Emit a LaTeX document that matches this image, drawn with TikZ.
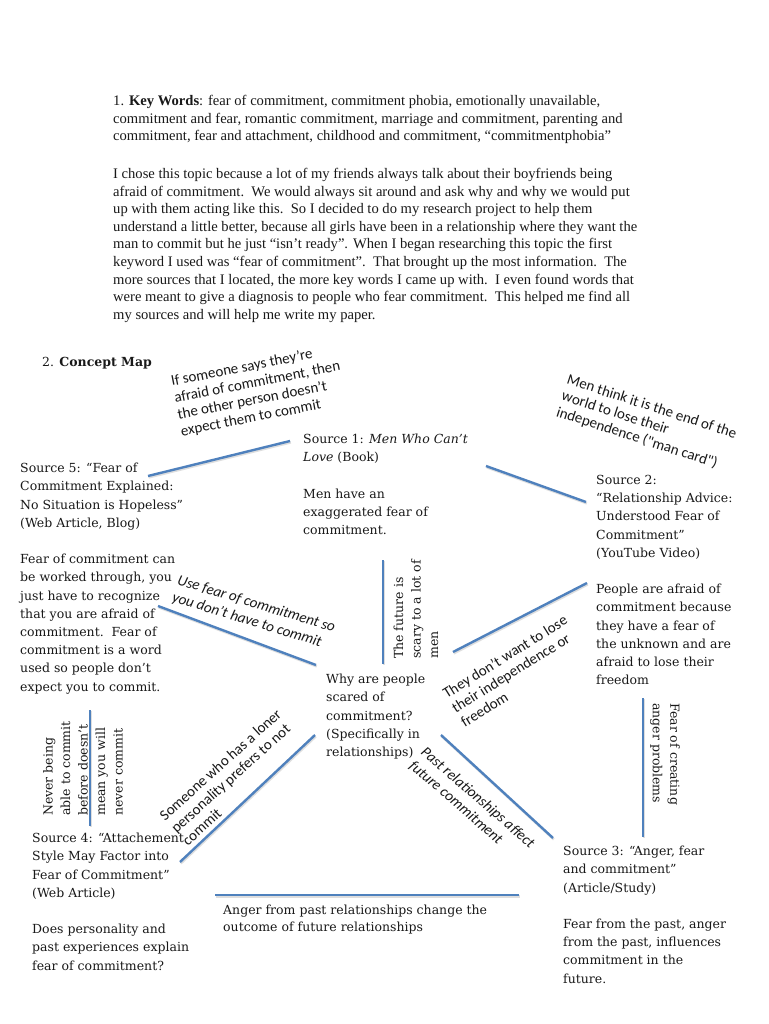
\documentclass[tikz,border=0pt]{standalone}
\usepackage{fontspec}
\setmainfont{Liberation Serif}
\newfontfamily\camfont{DejaVu Serif}
\newfontfamily\calfont{Carlito}
\definecolor{linkblue}{RGB}{79,129,189}
\definecolor{ink}{RGB}{25,25,25}
\begin{document}
\begin{tikzpicture}[x=1pt,y=-1pt,
  toptext/.style={font=\fontsize{14.6}{17.6}\selectfont, align=left, anchor=north west, inner sep=0, text=ink},
  body/.style={font=\camfont\fontsize{12.5}{18.2}\selectfont, align=left, anchor=north west, inner sep=0, text=ink},
  vlab/.style={font=\camfont\fontsize{12.5}{17.5}\selectfont, align=left, anchor=west, inner sep=0, text=ink},
  clab/.style={font=\calfont\fontsize{15}{17}\selectfont, align=left, anchor=west, inner sep=0, text=ink},
  ilab/.style={font=\calfont\itshape\fontsize{15}{18}\selectfont, align=left, anchor=west, inner sep=0, text=ink},
  link/.style={draw=linkblue, line width=2.4pt},
  shade/.style={draw=black!25, line width=2.4pt, opacity=0.5, transform canvas={shift={(0.8pt,-1.4pt)}}}
]
\fill[white] (0,0) rectangle (768,1024);
\useasboundingbox (0,0) rectangle (768,1024);

% ---- top text ----
\node[toptext] (kw) at (113,95) {1. \textbf{Key Words}: fear of commitment, commitment phobia, emotionally unavailable,\\
commitment and fear, romantic commitment, marriage and commitment, parenting and\\
commitment, fear and attachment, childhood and commitment, “commitmentphobia”};

\node[toptext] (para) at (113,168) {I chose this topic because a lot of my friends always talk about their boyfriends being\\
afraid of commitment.\ \ We would always sit around and ask why and why we would put\\
up with them acting like this.\ \ So I decided to do my research project to help them\\
understand a little better, because all girls have been in a relationship where they want the\\
man to commit but he just “isn’t ready”. When I began researching this topic the first\\
keyword I used was “fear of commitment”.\ \ That brought up the most information.\ \ The\\
more sources that I located, the more key words I came up with.\ \ I even found words that\\
were meant to give a diagnosis to people who fear commitment.\ \ This helped me find all\\
my sources and will help me write my paper.};

% ---- concept map ----
\node[body] (cmh) at (42,357) {2. \textbf{Concept Map}};

\node[body] (s1) at (303,434) {Source 1: \textit{Men Who Can’t}\\ \textit{Love} (Book)\\[18.2pt]
Men have an\\ exaggerated fear of\\ commitment.};

\node[body] (s2) at (596,475) {Source 2:\\ “Relationship Advice:\\ Understood Fear of\\ Commitment”\\ (YouTube Video)\\[18.2pt]
People are afraid of\\ commitment because\\ they have a fear of\\ the unknown and are\\ afraid to lose their\\ freedom};

\node[body] (s5) at (20,463) {Source 5: “Fear of\\ Commitment Explained:\\ No Situation is Hopeless”\\ (Web Article, Blog)\\[18.2pt]
Fear of commitment can\\ be worked through, you\\ just have to recognize\\ that you are afraid of\\ commitment.\ \ Fear of\\ commitment is a word\\ used so people don’t\\ expect you to commit.};

\node[body] (q) at (326,674) {Why are people\\ scared of\\ commitment?\\ (Specifically in\\ relationships)};

\node[body] (s3) at (563,846) {Source 3: “Anger, fear\\ and commitment”\\ (Article/Study)\\[18.2pt]
Fear from the past, anger\\ from the past, influences\\ commitment in the\\ future.};

\node[body] (s4) at (32,833) {Source 4: “Attachement\\ Style May Factor into\\ Fear of Commitment”\\ (Web Article)\\[18.2pt]
Does personality and\\ past experiences explain\\ fear of commitment?};

\node[body, font=\camfont\fontsize{12.5}{17}\selectfont] (anger) at (223,905) {Anger from past relationships change the\\ outcome of future relationships};

% ---- link labels ----
\node[clab, rotate=11] (lif) at (176,407) {If someone says they’re\\ afraid of commitment, then\\ the other person doesn’t\\ expect them to commit};
\node[clab, rotate=-18] (lmen) at (562,396) {Men think it is the end of the\\ world to lose their\\ independence ("man card")};
\node[ilab, rotate=-17] (luse) at (175,589) {Use fear of commitment so\\ you don’t have to commit};
\node[vlab, rotate=90] (lfut) at (416,659) {The future is\\ scary to a lot of\\ men};
\node[clab, rotate=32] (lfree) at (453,709) {They don’t want to lose\\ their independence or\\ freedom};
\node[vlab, rotate=-90] (lang) at (665,703) {Fear of creating\\ anger problems};
\node[ilab, rotate=-41] (lpast) at (417,757) {Past relationships affect\\ future commitment};
\node[vlab, rotate=90] (lnev) at (83,816) {Never being\\ able to commit\\ before doesn’t\\ mean you will\\ never commit};
\node[clab, rotate=42] (llon) at (173,830) {Someone who has a loner\\ personality prefers to not\\ commit};

% ---- connector ends ----
\coordinate (e5a) at (148,476);  \coordinate (e1a) at (290,441);
\coordinate (e1b) at (486,466);  \coordinate (e2a) at (586,502);
\coordinate (e5b) at (158,606);  \coordinate (eqa) at (316,665);
\coordinate (e1c) at (383,560);  \coordinate (eqb) at (383,664);
\coordinate (eqc) at (453,652);  \coordinate (e2b) at (587,583);
\coordinate (e2c) at (643,698);  \coordinate (e3a) at (643,837);
\coordinate (eqd) at (441,735);  \coordinate (e3b) at (553,838);
\coordinate (eqe) at (315,735);  \coordinate (e4a) at (180,862);
\coordinate (e4b) at (90,710);   \coordinate (e4c) at (90,826);
\coordinate (e4d) at (215,895);  \coordinate (e3c) at (519,895);

\foreach \a/\b in {e5a/e1a,e1b/e2a,e5b/eqa,e1c/eqb,eqc/e2b,e2c/e3a,eqd/e3b,eqe/e4a,e4b/e4c,e4d/e3c}{
  \draw[shade] (\a) -- (\b);
  \draw[link] (\a) -- (\b);
}
\end{tikzpicture}
\end{document}
